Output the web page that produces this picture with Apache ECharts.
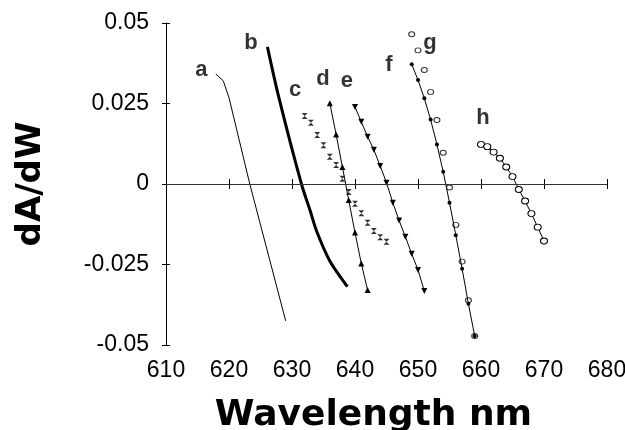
<!DOCTYPE html>
<html>
<head>
<meta charset="utf-8">
<script src="https://cdn.jsdelivr.net/npm/echarts@6/dist/echarts.min.js"></script>
<style>
  html, body { margin: 0; padding: 0; background: #fff; }
  #chart { width: 625px; height: 430px; }
</style>
</head>
<body>
<div id="chart"></div>
<script>
// x ticks / y ticks
const xTicks = [610, 620, 630, 640, 650, 660, 670, 680]
const yTicks = [-0.05, -0.025, 0, 0.025, 0.05]

// curves, [wavelength, dA/dW]
const curveA = [[617.9, 0.0342], [619.1, 0.032], [620.0, 0.0268], [623.3, 0], [629.0, -0.0425]]
const curveB = [[626.1, 0.0426], [627.9, 0.027], [631.5, 0], [632.9, -0.0084], [633.9, -0.0146],
  [636.0, -0.0239], [638.8, -0.0319]]
const cX = [632, 633, 634, 635, 636, 637, 638, 639, 640, 641, 642, 643, 644, 645]
const cY = [0.0211, 0.019, 0.0152, 0.012, 0.0085, 0.0059, 0.0016, -0.0025, -0.0061, -0.0091, -0.012, -0.0146, -0.0165, -0.0179]
const dX = [636, 637, 638, 639, 640, 641, 642]
const dY = [0.0251, 0.0154, 0.0053, -0.005, -0.0151, -0.0247, -0.0329]
const eX = [640, 641, 642, 643, 644, 645, 646, 647, 648, 649, 650, 651]
const eY = [0.0239, 0.0193, 0.0147, 0.0106, 0.0056, 0.0004, -0.0058, -0.0113, -0.0164, -0.0217, -0.0267, -0.0332]
const fgX = [649, 650, 651, 652, 653, 654, 655, 656, 657, 658, 659]
const fY = [0.0372, 0.0323, 0.0266, 0.02, 0.0123, 0.0038, -0.0058, -0.0159, -0.0263, -0.0372, -0.0472]
const gY = [0.0465, 0.0415, 0.0354, 0.0286, 0.0199, 0.0097, -0.0011, -0.0127, -0.0241, -0.0361, -0.0472]
const hX = [660, 661, 662, 663, 664, 665, 666, 667, 668, 669, 670]
const hY = [0.0123, 0.0116, 0.0099, 0.008, 0.0053, 0.0023, -0.0017, -0.0053, -0.0092, -0.0134, -0.0177]

// curve letters and where they sit
const curveNames = ['a', 'b', 'c', 'd', 'e', 'f', 'g', 'h']
const namePos = [[615.6, 0.0354], [623.5, 0.0438], [630.5, 0.0292], [634.9, 0.0326],
  [638.7, 0.032], [645.4, 0.0369], [651.9, 0.0438], [660.3, 0.0205]]

const zip = (xs, ys) => xs.map((x, i) => [x, ys[i]])

const chart = echarts.init(document.getElementById('chart'))

const gridPos = { left: 166, right: 18, top: 23, bottom: 85, outerBoundsMode: 'none', containLabel: false }
const xBase = { type: 'value', min: 610, max: 680, interval: 10 }
const yBase = { type: 'value', min: -0.05, max: 0.05, interval: 0.025 }

chart.setOption({
  animation: false,
  grid: [gridPos, gridPos],
  xAxis: [
    {
      ...xBase,
      gridIndex: 0,
      name: 'Wavelength nm',
      nameLocation: 'middle',
      nameGap: 53,
      nameTextStyle: {
        fontFamily: 'DejaVu Sans', fontWeight: 'bold', fontSize: 36, color: '#000',
        padding: [0, 26, 0, 0],
      },
      axisLine: { lineStyle: { color: '#000', width: 1 } },
      axisTick: { length: 5, lineStyle: { color: '#000' } },
      axisLabel: { margin: 14, fontFamily: 'Liberation Sans', fontSize: 23, color: '#000' },
      splitLine: { show: false },
    },
    {
      ...xBase,
      gridIndex: 1,
      axisLine: { show: false },
      axisTick: { inside: true, length: 5, lineStyle: { color: '#000' } },
      axisLabel: { show: false },
      splitLine: { show: false },
    },
  ],
  yAxis: [
    {
      ...yBase,
      gridIndex: 0,
      name: 'dA/dW',
      nameLocation: 'middle',
      nameGap: 118,
      nameRotate: 90,
      nameTextStyle: { fontFamily: 'DejaVu Sans', fontWeight: 'bold', fontSize: 34, color: '#000' },
      axisLine: { show: true, lineStyle: { color: '#000', width: 1 } },
      axisTick: { show: true, length: 4, lineStyle: { color: '#000' } },
      axisLabel: {
        margin: 17, fontFamily: 'Liberation Sans', fontSize: 23, color: '#000',
        formatter: (v) => (Math.abs(v) < 1e-9 ? '0' : String(+v.toFixed(3))),
      },
      splitLine: { show: false },
    },
    {
      ...yBase,
      gridIndex: 1,
      axisLine: { show: false },
      axisTick: { show: true, inside: true, length: 4, lineStyle: { color: '#000' } },
      axisLabel: { show: false },
      splitLine: { show: false },
    },
  ],
  series: [
    {
      name: 'a', type: 'line', data: curveA, showSymbol: false,
      lineStyle: { color: '#000', width: 1 },
      markLine: {
        silent: true, symbol: 'none', label: { show: false },
        lineStyle: { color: '#333', width: 1, type: 'solid' },
        data: [{ yAxis: 0 }],
      },
    },
    {
      name: 'b', type: 'line', data: curveB, showSymbol: false, smooth: 0.3,
      lineStyle: { color: '#000', width: 3 },
    },
    {
      name: 'c', type: 'scatter', data: zip(cX, cY),
      symbol: 'path://M0,0L10,0L0,12L10,12Z', symbolSize: [6, 6],
      itemStyle: { color: '#000' },
    },
    {
      name: 'd', type: 'line', data: zip(dX, dY),
      symbol: 'triangle', symbolSize: 6,
      lineStyle: { color: '#000', width: 1 }, itemStyle: { color: '#000' },
    },
    {
      name: 'e', type: 'line', data: zip(eX, eY),
      symbol: 'triangle', symbolRotate: 180, symbolSize: 6,
      lineStyle: { color: '#000', width: 1 }, itemStyle: { color: '#000' },
    },
    {
      name: 'f', type: 'line', data: zip(fgX, fY),
      symbol: 'circle', symbolSize: 4,
      lineStyle: { color: '#000', width: 1 }, itemStyle: { color: '#000' },
    },
    {
      name: 'g', type: 'scatter', data: zip(fgX, gY),
      symbol: 'circle', symbolSize: [6, 5],
      itemStyle: { color: '#fff', borderColor: '#000', borderWidth: 1 },
    },
    {
      name: 'h', type: 'line', data: zip(hX, hY),
      symbol: 'circle', symbolSize: [7, 6],
      lineStyle: { color: '#000', width: 1 },
      itemStyle: { color: '#fff', borderColor: '#000', borderWidth: 1 },
    },
    {
      name: 'labels', type: 'scatter', symbolSize: 0, silent: true,
      data: namePos.map((p, i) => ({ value: p, name: curveNames[i] })),
      label: {
        show: true, position: 'inside', formatter: '{b}',
        fontFamily: 'Liberation Sans', fontWeight: 'bold', fontSize: 22, color: '#000',
      },
    },
  ],
})
</script>
</body>
</html>
